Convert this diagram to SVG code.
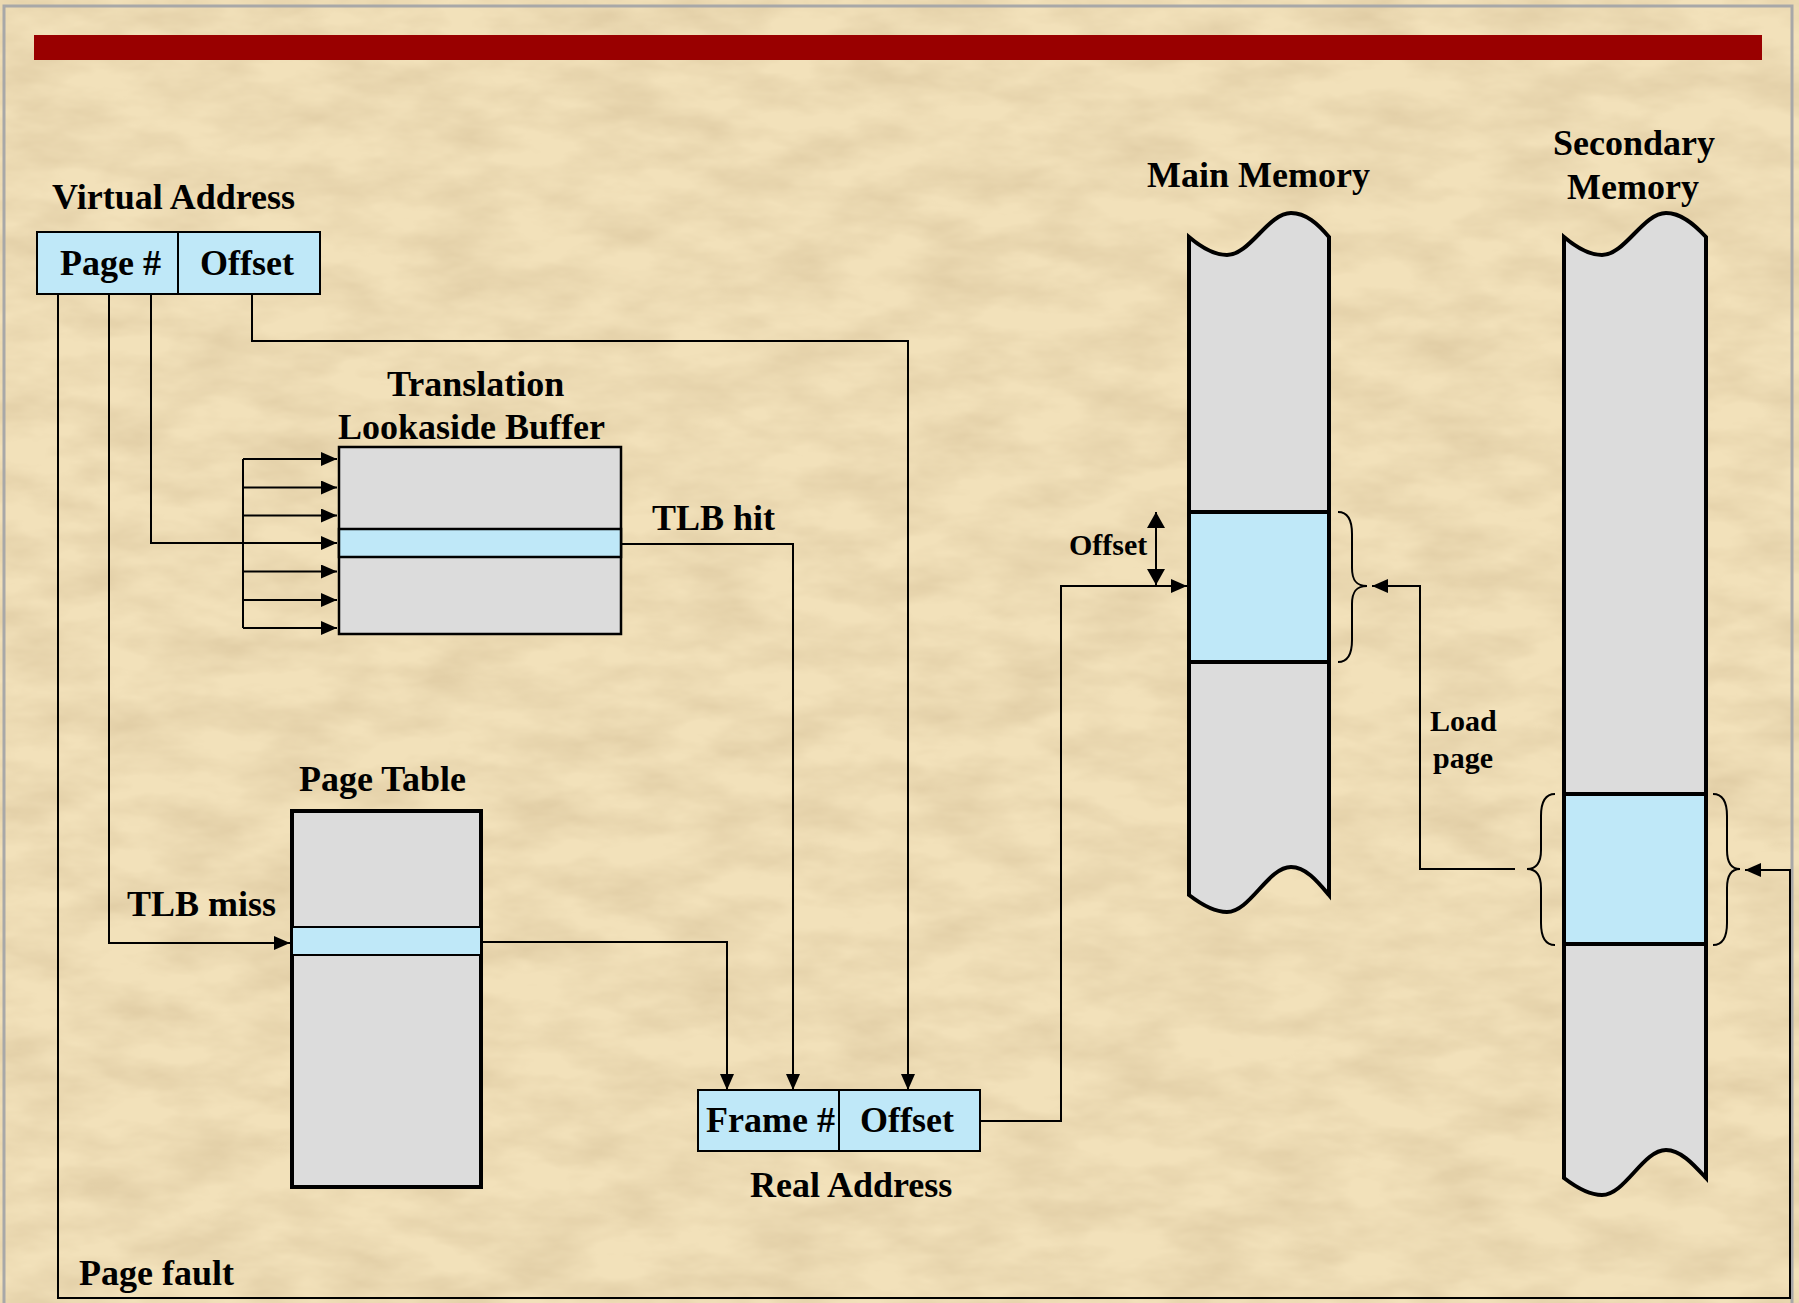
<svg xmlns="http://www.w3.org/2000/svg" width="1799" height="1303" viewBox="0 0 1799 1303">
<defs>
<style>
.t{font-family:"Liberation Serif","Times New Roman",serif;font-weight:bold;font-size:36px;fill:#000}
.s{font-size:30px}
.ln{fill:none;stroke:#000;stroke-width:2}
.blue{fill:#BFE8F8;stroke:#000}
.gray{fill:#DCDCDC;stroke:#000}
.br{fill:none;stroke:#000;stroke-width:2}
</style>
<marker id="ah" markerUnits="userSpaceOnUse" markerWidth="17" markerHeight="15" refX="16" refY="7" orient="auto">
<path d="M0,0 L16,7 L0,14 Z" fill="#000"/>
</marker>
<marker id="ahd" markerUnits="userSpaceOnUse" markerWidth="17" markerHeight="19" refX="16" refY="9" orient="auto-start-reverse">
<path d="M0,0 L16,9 L0,18 Z" fill="#000"/>
</marker>
<filter id="tex" x="0" y="0" width="100%" height="100%">
<feTurbulence type="fractalNoise" baseFrequency="0.012 0.03" numOctaves="4" seed="7"/>
<feColorMatrix type="matrix" values="0 0 0 0 0.60  0 0 0 0 0.46  0 0 0 0 0.26  0.75 0 0 0 -0.24"/>
</filter>
</defs>

<g id="background">
<rect x="0" y="0" width="1799" height="1303" fill="#F2E1BA"/>
<rect x="0" y="0" width="1799" height="1303" filter="url(#tex)"/>
<rect x="4" y="6" width="1788" height="1310" fill="none" stroke="#A8A8A8" stroke-width="3"/>
<rect x="34" y="35" width="1728" height="25" fill="#990000"/>
</g>

<g id="connectors">
<polyline class="ln" points="58,294 58,1298 1790,1298 1790,870 1745,870" marker-end="url(#ah)"/>
<polyline class="ln" points="151,294 151,543 337,543" marker-end="url(#ah)"/>
<polyline class="ln" points="109,294 109,943 290,943" marker-end="url(#ah)"/>
<polyline class="ln" points="252,294 252,341 908,341 908,1090" marker-end="url(#ah)"/>
<polyline class="ln" points="618,544 793,544 793,1090" marker-end="url(#ah)"/>
<polyline class="ln" points="481,942 727,942 727,1090" marker-end="url(#ah)"/>
<polyline class="ln" points="980,1121 1061,1121 1061,586 1187,586" marker-end="url(#ah)"/>
<polyline class="ln" points="1515,869 1420,869 1420,586 1372,586" marker-end="url(#ah)"/>
<line class="ln" x1="243" y1="459" x2="243" y2="628"/>
<line class="ln" x1="243" y1="459" x2="337" y2="459" marker-end="url(#ah)"/>
<line class="ln" x1="243" y1="487.5" x2="337" y2="487.5" marker-end="url(#ah)"/>
<line class="ln" x1="243" y1="515.5" x2="337" y2="515.5" marker-end="url(#ah)"/>
<line class="ln" x1="243" y1="571.5" x2="337" y2="571.5" marker-end="url(#ah)"/>
<line class="ln" x1="243" y1="600" x2="337" y2="600" marker-end="url(#ah)"/>
<line class="ln" x1="243" y1="628" x2="337" y2="628" marker-end="url(#ah)"/>
<line class="ln" x1="1156" y1="512" x2="1156" y2="585" marker-start="url(#ahd)" marker-end="url(#ahd)"/>
</g>

<g id="virtual-address">
<text class="t" x="52" y="209">Virtual Address</text>
<rect class="blue" x="37" y="232" width="283" height="62" stroke-width="2"/>
<line class="ln" x1="178" y1="232" x2="178" y2="294"/>
<text class="t" x="60" y="275">Page #</text>
<text class="t" x="200" y="275">Offset</text>
</g>

<g id="tlb">
<text class="t" x="387" y="396">Translation</text>
<text class="t" x="338" y="439">Lookaside Buffer</text>
<rect class="gray" x="339" y="447" width="282" height="187" stroke-width="2.5"/>
<rect class="blue" x="339" y="529" width="282" height="28" stroke-width="2.5"/>
</g>
<g id="tlb-hit-label"><text class="t" x="652" y="530">TLB hit</text></g>

<g id="page-table">
<text class="t" x="299" y="791">Page Table</text>
<rect class="gray" x="292" y="811" width="189" height="376" stroke-width="4"/>
<rect class="blue" x="292" y="927" width="189" height="28" stroke-width="2"/>
</g>
<g id="tlb-miss-label"><text class="t" x="127" y="916">TLB miss</text></g>

<g id="real-address">
<rect class="blue" x="698" y="1090" width="282" height="61" stroke-width="2"/>
<line class="ln" x1="839" y1="1090" x2="839" y2="1151"/>
<text class="t" x="706" y="1132">Frame #</text>
<text class="t" x="860" y="1132">Offset</text>
<text class="t" x="750" y="1197">Real Address</text>
</g>

<g id="main-memory">
<text class="t" x="1147" y="187">Main Memory</text>
<path class="gray" stroke-width="4" d="M1189,237 C1202,248 1214,255 1227,255 C1250,255 1268,213 1291,213 C1306,213 1318,224 1329,237 L1329,895 C1318,882 1306,867 1291,867 C1268,867 1250,912 1227,912 C1214,912 1202,905 1189,895 Z"/>
<rect class="blue" x="1189" y="512" width="140" height="150" stroke-width="4"/>
<path class="br" d="M1338,512 C1348,512 1352,520 1352,534 L1352,568 C1352,580 1356,586 1367,586 C1356,586 1352,592 1352,604 L1352,640 C1352,654 1348,662 1338,662"/>
<text class="t s" x="1069" y="555">Offset</text>
</g>

<g id="load-page-label">
<text class="t s" x="1430" y="731">Load</text>
<text class="t s" x="1433" y="768">page</text>
</g>

<g id="secondary-memory">
<text class="t" x="1553" y="155">Secondary</text>
<text class="t" x="1567" y="199">Memory</text>
<path class="gray" stroke-width="4" d="M1564,237 C1577,248 1589,255 1602,255 C1625,255 1643,213 1666,213 C1681,213 1694,224 1706,237 L1706,1178 C1694,1165 1681,1150 1666,1150 C1643,1150 1625,1195 1602,1195 C1589,1195 1577,1188 1564,1178 Z"/>
<rect class="blue" x="1564" y="794" width="142" height="150" stroke-width="4"/>
<path class="br" d="M1555,794 C1545,794 1541,802 1541,816 L1541,850 C1541,862 1537,869 1527,869 C1537,869 1541,876 1541,888 L1541,923 C1541,937 1545,945 1555,945"/>
<path class="br" d="M1713,794 C1723,794 1727,802 1727,816 L1727,850 C1727,862 1731,869 1740,869 C1731,869 1727,876 1727,888 L1727,923 C1727,937 1723,945 1713,945"/>
</g>

<g id="page-fault-label"><text class="t" x="79" y="1285">Page fault</text></g>
</svg>
